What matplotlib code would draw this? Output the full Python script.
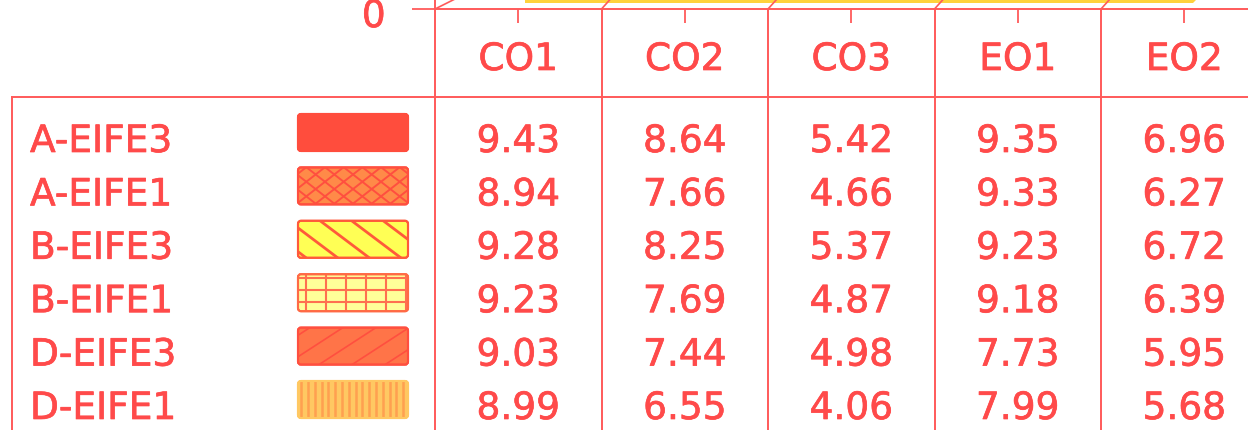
import matplotlib
matplotlib.use('Agg')
import matplotlib.pyplot as plt
import matplotlib.patheffects as pe
import numpy as np
from matplotlib.patches import FancyBboxPatch, Polygon
from matplotlib.transforms import ScaledTranslation

categories = ['CO1', 'CO2', 'CO3', 'EO1', 'EO2']
series = ['A-EIFE3', 'A-EIFE1', 'B-EIFE3', 'B-EIFE1', 'D-EIFE3', 'D-EIFE1']
a_eife3 = [9.43, 8.64, 5.42, 9.35, 6.96]
a_eife1 = [8.94, 7.66, 4.66, 9.33, 6.27]
b_eife3 = [9.28, 8.25, 5.37, 9.23, 6.72]
b_eife1 = [9.23, 7.69, 4.87, 9.18, 6.39]
d_eife3 = [9.03, 7.44, 4.98, 7.73, 5.95]
d_eife1 = [8.99, 6.55, 4.06, 7.99, 5.68]
values = [a_eife3, a_eife1, b_eife3, b_eife1, d_eife3, d_eife1]

W, H = 1248, 431
text_c = '#ff4a4a'
line_c = '#ff5a5a'
plt.rcParams['font.family'] = ['DejaVu Sans']
fs = 27
bold = [pe.withStroke(linewidth=0.5, foreground=text_c)]

# swatch styles: face, edge, list of (angle, spacing, colour, lw)
styles = [
    ('#ff4d3d', '#ff4d3d', []),
    ('#ff8a48', '#ff4f3f', [(38, 11.5, '#ff4f3f', 1.4), (-38, 11.5, '#ff4f3f', 1.4)]),
    ('#ffff55', '#ff5a3a', [(-37, 19, '#ff5a3a', 2.0)]),
    ('#ffff99', '#ff6a45', [(90, 20, '#ff7050', 1.5), (0, 12, '#ff7050', 1.5)]),
    ('#ff7448', '#ff4f3f', [(33, 18, '#ff4f3f', 1.2)]),
    ('#ffc862', '#ffc862', [(90, 6.8, '#ffa050', 1.8)]),
]
hatches = ['', 'xx', '\\', '+', '/', '|||']


def swatch(ax, x0, y0, w, h, face, edge, lines):
    p = FancyBboxPatch((x0, y0), w, h, boxstyle='round,pad=0,rounding_size=3',
                       fc=face, ec=edge, lw=1.5, zorder=3)
    ax.add_patch(p)
    cx, cy = x0 + w / 2, y0 + h / 2
    L = w + h
    for ang, d, col, lw in lines:
        t = np.radians(ang)
        dx, dy = np.cos(t), -np.sin(t)
        nx, ny = np.sin(t), np.cos(t)
        for k in np.arange(-L, L, d):
            px, py = cx + k * nx, cy + k * ny
            ln, = ax.plot([px - L * dx, px + L * dx], [py - L * dy, py + L * dy],
                          color=col, lw=lw, zorder=4, solid_capstyle='butt')
            ln.set_clip_path(p)
    # redraw border on top
    ax.add_patch(FancyBboxPatch((x0, y0), w, h, boxstyle='round,pad=0,rounding_size=3',
                                fc='none', ec=edge, lw=1.5, zorder=5))


fig = plt.figure(figsize=(W / 100, H / 100), dpi=100)

col0, colw = 435, 166.5

# the 3D bars sit behind the floor, outside this crop
back = fig.add_axes([(col0 + 20) / W, 1 + 3 / H, 5 * colw / W, 1.5])
idx = np.arange(len(categories))
bw = 0.13
for i, vals in enumerate(values):
    back.bar(idx + (i - 2.5) * bw, vals, bw, color=styles[i][0],
             edgecolor=styles[i][1], hatch=hatches[i])
back.set_xlim(-0.5, 4.5)
back.set_ylim(0, 10)
back.axis('off')

# front axis: value axis "0" and category ticks
ax = fig.add_axes([col0 / W, 1 - 10 / H, 5 * colw / W, 0.6])
ax.patch.set_alpha(0)
ax.set_xlim(-0.5, 4.5)
ax.set_ylim(0, 10)
for s in ['top', 'right']:
    ax.spines[s].set_visible(False)
for s in ['left', 'bottom']:
    ax.spines[s].set_color(line_c)
    ax.spines[s].set_linewidth(1.4)
ax.set_xticks(idx)
ax.set_xticklabels([])
ax.tick_params(axis='x', length=10, width=1.3, color=line_c, direction='out')
ax.set_yticks([0])
ax.set_yticklabels(['0'], fontsize=fs, color=text_c)
ax.tick_params(axis='y', length=16.5, width=1.3, color=line_c, pad=19)
for lab in ax.get_yticklabels():
    lab.set_path_effects(bold)
    lab.set_transform(lab.get_transform() + ScaledTranslation(0, -4 / 100, fig.dpi_scale_trans))

# overlay for the data table
tab = fig.add_axes([0, 0, 1, 1])
tab.set_xlim(0, W)
tab.set_ylim(H, 0)
tab.axis('off')

# floor edge
tab.add_patch(Polygon([(525, 0), (1197, 0), (1193, 4), (525, 4)],
                      closed=True, fc='#ffd23c', ec='none'))

tab.plot([12, W + 5], [98, 98], color=line_c, lw=1.4)
tab.plot([12, 12], [98, H + 5], color=line_c, lw=1.4)
for i in range(len(categories) + 1):
    x = col0 + i * colw
    tab.plot([x, x], [10, H + 5], color=line_c, lw=1.4)
    if i > 0:
        tab.plot([x, x + 9], [10, 0], color=line_c, lw=1.2)
tab.plot([col0, col0 + 20], [10, 0], color=line_c, lw=1.2)

for i, c in enumerate(categories):
    tab.text(col0 + (i + 0.5) * colw, 71, c, ha='center', va='baseline',
             fontsize=fs, color=text_c, path_effects=bold)

for j, name in enumerate(series):
    base = 153 + 53.4 * j
    tab.text(30, base, name, ha='left', va='baseline', fontsize=fs, color=text_c,
             path_effects=bold)
    face, edge, lines = styles[j]
    swatch(tab, 298, 115 + 53.4 * j, 110, 37, face, edge, lines)
    for i, v in enumerate(values[j]):
        tab.text(col0 + (i + 0.5) * colw, base, f'{v:.2f}', ha='center',
                 va='baseline', fontsize=fs, color=text_c, path_effects=bold)

fig.savefig('out.png', dpi=100)
